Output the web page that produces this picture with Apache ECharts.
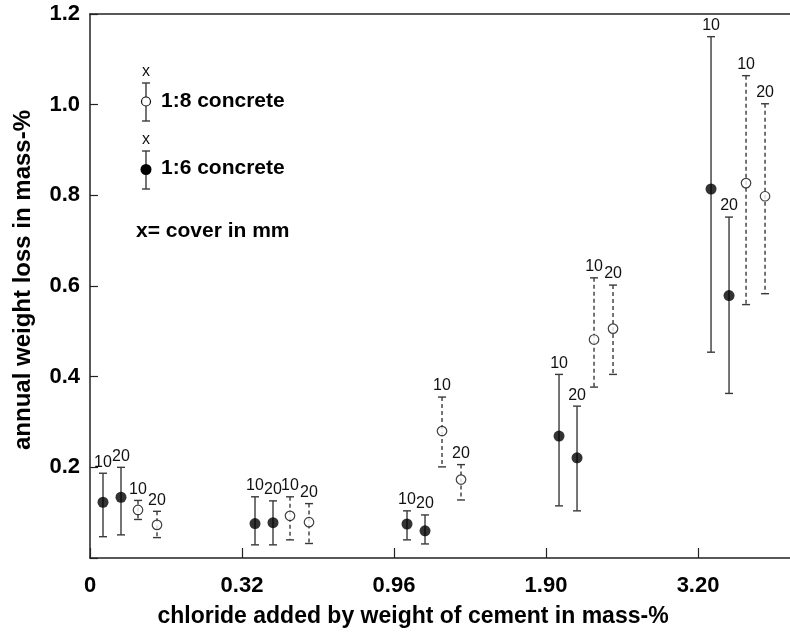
<!DOCTYPE html>
<html>
<head>
<meta charset="utf-8">
<script src="https://cdn.jsdelivr.net/npm/echarts@6/dist/echarts.min.js"></script>
<style>
html,body{margin:0;padding:0;background:#fff;}
#chart{width:790px;height:634px;}
</style>
</head>
<body>
<div id="chart"></div>
<script>
// ---- data ----
const categories = ['0', '0.32', '0.96', '1.90', '3.20'];
const yTicks = [0.2, 0.4, 0.6, 0.8, 1.0, 1.2];

// 1:6 concrete, cover 10 mm (filled)
const c16_10_mean = [0.123, 0.076, 0.075, 0.269, 0.814];
const c16_10_low  = [0.047, 0.029, 0.040, 0.115, 0.454];
const c16_10_high = [0.187, 0.135, 0.104, 0.405, 1.150];
// 1:6 concrete, cover 20 mm (filled)
const c16_20_mean = [0.134, 0.078, 0.060, 0.221, 0.579];
const c16_20_low  = [0.051, 0.029, 0.031, 0.104, 0.363];
const c16_20_high = [0.200, 0.126, 0.095, 0.335, 0.752];
// 1:8 concrete, cover 10 mm (open)
const c18_10_mean = [0.106, 0.093, 0.280, 0.482, 0.827];
const c18_10_low  = [0.085, 0.040, 0.201, 0.377, 0.559];
const c18_10_high = [0.127, 0.135, 0.355, 0.618, 1.064];
// 1:8 concrete, cover 20 mm (open)
const c18_20_mean = [0.073, 0.079, 0.173, 0.506, 0.798];
const c18_20_low  = [0.045, 0.032, 0.128, 0.405, 0.583];
const c18_20_high = [0.103, 0.120, 0.206, 0.602, 1.002];

const seriesDefs = [
  {name: '1:6 concrete, 10 mm', cover: '10', mean: c16_10_mean, low: c16_10_low, high: c16_10_high, filled: true},
  {name: '1:6 concrete, 20 mm', cover: '20', mean: c16_20_mean, low: c16_20_low, high: c16_20_high, filled: true},
  {name: '1:8 concrete, 10 mm', cover: '10', mean: c18_10_mean, low: c18_10_low, high: c18_10_high, filled: false},
  {name: '1:8 concrete, 20 mm', cover: '20', mean: c18_20_mean, low: c18_20_low, high: c18_20_high, filled: false}
];

// ---- layout / style ----
const dodgePx = [13, 31, 48, 67];
const XMAX = 4.605;
const FONT = '"Liberation Sans", Arial, Helvetica, sans-serif';
const INK = '#222';
const BAR = '#3a3a3a';

const chart = echarts.init(document.getElementById('chart'), null, {renderer: 'canvas'});

function errorBarRenderer(offset, dashed, label) {
  return function (params, api) {
    const i = api.value(0);
    const top = api.coord([i, api.value(2)]);
    const bot = api.coord([i, api.value(1)]);
    const x = top[0] + offset;
    const cw = 4;
    return {
      type: 'group',
      children: [
        {type: 'line', shape: {x1: x, y1: top[1], x2: x, y2: bot[1]},
         style: {stroke: BAR, lineWidth: 1.4, lineDash: dashed ? [4, 3] : null}},
        {type: 'line', shape: {x1: x - cw, y1: top[1], x2: x + cw, y2: top[1]},
         style: {stroke: BAR, lineWidth: 1.4}},
        {type: 'line', shape: {x1: x - cw, y1: bot[1], x2: x + cw, y2: bot[1]},
         style: {stroke: BAR, lineWidth: 1.4}},
        {type: 'text', x: x, y: top[1] - 3,
         style: {text: label, align: 'center', verticalAlign: 'bottom',
                 font: '16px ' + FONT, fill: '#111'}}
      ]
    };
  };
}

const series = [];
seriesDefs.forEach(function (d, k) {
  series.push({
    type: 'custom',
    name: d.name + ' range',
    renderItem: errorBarRenderer(dodgePx[k], !d.filled, d.cover),
    data: categories.map(function (c, i) { return [i, d.low[i], d.high[i]]; }),
    encode: {x: 0, y: [1, 2]},
    clip: false,
    z: 2,
    silent: true
  });
});
seriesDefs.forEach(function (d, k) {
  series.push({
    type: 'scatter',
    name: d.name,
    data: categories.map(function (c, i) { return [i, d.mean[i]]; }),
    symbol: 'circle',
    symbolSize: d.filled ? 11 : 9.5,
    symbolOffset: [dodgePx[k], 0],
    itemStyle: d.filled
      ? {color: '#000', borderWidth: 0}
      : {color: '#fff', borderColor: '#111', borderWidth: 1.2},
    z: 5,
    silent: true
  });
});

// legend drawn as graphics (matches the hand-drawn key of the figure)
function legendBar(cx, yTop, yMid, yBot, filled) {
  return [
    {type: 'line', shape: {x1: cx, y1: yTop, x2: cx, y2: yBot}, style: {stroke: BAR, lineWidth: 1.4}},
    {type: 'line', shape: {x1: cx - 4, y1: yTop, x2: cx + 4, y2: yTop}, style: {stroke: BAR, lineWidth: 1.4}},
    {type: 'line', shape: {x1: cx - 4, y1: yBot, x2: cx + 4, y2: yBot}, style: {stroke: BAR, lineWidth: 1.4}},
    {type: 'circle', shape: {cx: cx, cy: yMid, r: filled ? 5.5 : 4.5},
     style: filled ? {fill: '#000'} : {fill: '#fff', stroke: '#111', lineWidth: 1.2}, z: 10}
  ];
}

const graphic = [].concat(
  [{type: 'text', x: 146, y: 72, style: {text: 'x', align: 'center', verticalAlign: 'middle', font: '16px ' + FONT, fill: '#111'}}],
  legendBar(146, 83, 101.5, 121, false),
  [{type: 'text', x: 161, y: 101, style: {text: '1:8 concrete', verticalAlign: 'middle', font: 'bold 21px ' + FONT, fill: '#000'}}],
  [{type: 'text', x: 146, y: 140, style: {text: 'x', align: 'center', verticalAlign: 'middle', font: '16px ' + FONT, fill: '#111'}}],
  legendBar(146, 151, 169.5, 189, true),
  [{type: 'text', x: 161, y: 168, style: {text: '1:6 concrete', verticalAlign: 'middle', font: 'bold 21px ' + FONT, fill: '#000'}}],
  [{type: 'text', x: 136, y: 231, style: {text: 'x= cover in mm', verticalAlign: 'middle', font: 'bold 21px ' + FONT, fill: '#000'}}]
);

const option = {
  backgroundColor: '#fff',
  animation: false,
  grid: {left: 90, right: 0, top: 14, height: 544},
  xAxis: [{
    type: 'value',
    min: 0, max: XMAX, interval: 1,
    name: 'chloride added by weight of cement in mass-%',
    nameLocation: 'middle',
    nameGap: 47,
    nameTextStyle: {fontFamily: FONT, fontWeight: 'bold', fontSize: 23, color: '#000', padding: [0, 54, 0, 0]},
    axisLine: {show: true, onZero: false, lineStyle: {color: INK, width: 1.5}},
    axisTick: {show: true, inside: true, length: 10, lineStyle: {color: INK, width: 1.2}},
    axisLabel: {
      fontFamily: FONT, fontWeight: 'bold', fontSize: 22, color: '#000', margin: 17,
      showMaxLabel: false,
      formatter: function (v) { return categories[Math.round(v)] !== undefined && Math.abs(v - Math.round(v)) < 1e-6 ? categories[Math.round(v)] : ''; }
    },
    splitLine: {show: false}
  }, {
    type: 'value',
    position: 'top',
    min: 0, max: XMAX,
    axisLine: {show: true, onZero: false, lineStyle: {color: INK, width: 1.5}},
    axisTick: {show: false},
    axisLabel: {show: false},
    splitLine: {show: false}
  }],
  yAxis: {
    type: 'value',
    min: 0, max: 1.2, interval: 0.2,
    name: 'annual weight loss in mass-%',
    nameLocation: 'middle',
    nameGap: 55,
    nameTextStyle: {fontFamily: FONT, fontWeight: 'bold', fontSize: 24, color: '#000', padding: [0, 0, 0, 12]},
    axisLine: {show: true, onZero: false, lineStyle: {color: INK, width: 1.5}},
    axisTick: {show: true, inside: true, length: 8, lineStyle: {color: INK, width: 1.2}},
    axisLabel: {
      fontFamily: FONT, fontWeight: 'bold', fontSize: 22, color: '#000', margin: 10,
      formatter: function (v) {
        const hit = yTicks.find(function (t) { return Math.abs(t - v) < 1e-6; });
        return hit === undefined ? '' : hit.toFixed(1);
      }
    },
    splitLine: {show: false}
  },
  graphic: graphic,
  series: series
};

chart.setOption(option);
</script>
</body>
</html>
